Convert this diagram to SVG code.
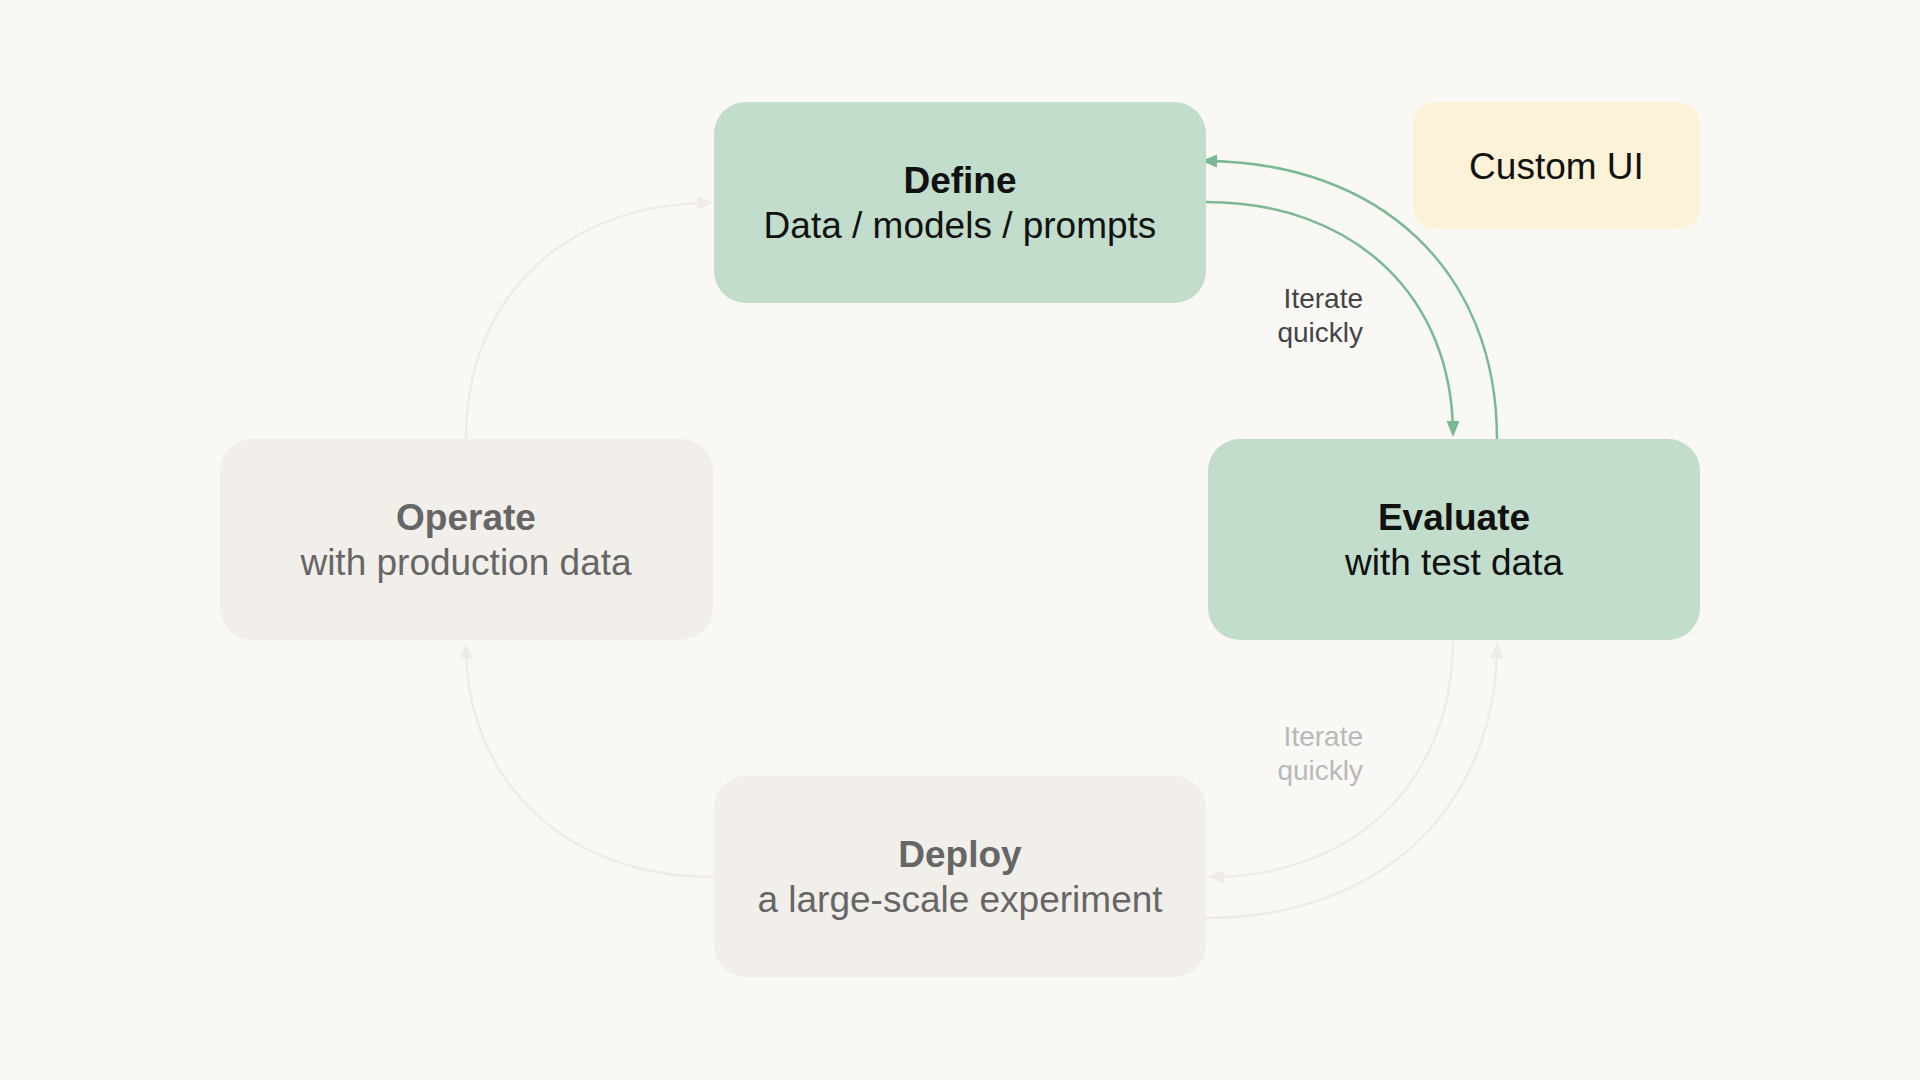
<svg xmlns="http://www.w3.org/2000/svg" width="1920" height="1080" viewBox="0 0 1920 1080">
  <style>
    .box-active { fill: #c2ddcb; }
    .box-idle { fill: #f2efeb; }
    .box-ui { fill: #fcf2d8; }
    .t { font-family: "Liberation Sans", Arial, sans-serif; font-size: 37px; text-anchor: middle; }
    .b { font-weight: bold; }
    .dark { fill: #111111; }
    .grey { fill: #666666; }
    .lbl { font-family: "Liberation Sans", Arial, sans-serif; font-size: 28px; text-anchor: end; }
    .c-on { fill: none; stroke: #7ab994; stroke-width: 2.5; }
    .c-off { fill: none; stroke: #efebe6; stroke-width: 2.5; }
  </style>
  <defs>
    <marker id="ah-on" markerUnits="userSpaceOnUse" markerWidth="18" markerHeight="14" refX="14" refY="6.5" orient="auto">
      <path d="M0,0 L16,6.5 L0,13 z" fill="#7ab994"/>
    </marker>
    <marker id="ah-off" markerUnits="userSpaceOnUse" markerWidth="18" markerHeight="14" refX="14" refY="6.5" orient="auto">
      <path d="M0,0 L16,6.5 L0,13 z" fill="#efebe6"/>
    </marker>
  </defs>
  <rect width="1920" height="1080" fill="#f9f8f5"/>

  <g id="connectors">
    <path class="c-on" d="M1206,202 C1354,202 1453,296 1453,435" marker-end="url(#ah-on)"/>
    <path class="c-on" d="M1497,439 C1497,272 1381,161 1203,161" marker-end="url(#ah-on)"/>
    <path class="c-off" d="M1453,640 C1453,782 1354,877 1210,877" marker-end="url(#ah-off)"/>
    <path class="c-off" d="M1206,918 C1381,918 1497,807 1497,644" marker-end="url(#ah-off)"/>
    <path class="c-off" d="M466,439 C466,297 565,203 711,203" marker-end="url(#ah-off)"/>
    <path class="c-off" d="M714,877 C565,877 466,782 466,645" marker-end="url(#ah-off)"/>
    <g id="label-top">
      <text class="lbl" x="1363" y="308" fill="#444444">Iterate</text>
      <text class="lbl" x="1363" y="342" fill="#444444">quickly</text>
    </g>
    <g id="label-bottom">
      <text class="lbl" x="1363" y="746" fill="#b9b9b9">Iterate</text>
      <text class="lbl" x="1363" y="780" fill="#b9b9b9">quickly</text>
    </g>
  </g>

  <g id="define">
    <rect class="box-active" x="714" y="102" width="492" height="201" rx="32"/>
    <text class="t b dark" x="960" y="193">Define</text>
    <text class="t dark" x="960" y="238">Data / models / prompts</text>
  </g>
  <g id="evaluate">
    <rect class="box-active" x="1208" y="439" width="492" height="201" rx="32"/>
    <text class="t b dark" x="1454" y="530">Evaluate</text>
    <text class="t dark" x="1454" y="575">with test data</text>
  </g>
  <g id="operate">
    <rect class="box-idle" x="220" y="439" width="493" height="201" rx="32"/>
    <text class="t b grey" x="466" y="530">Operate</text>
    <text class="t grey" x="466" y="575">with production data</text>
  </g>
  <g id="deploy">
    <rect class="box-idle" x="714" y="776" width="492" height="201" rx="32"/>
    <text class="t b grey" x="960" y="867">Deploy</text>
    <text class="t grey" x="960" y="912">a large-scale experiment</text>
  </g>
  <g id="custom-ui">
    <rect class="box-ui" x="1413" y="102" width="287" height="127" rx="22"/>
    <text class="t dark" x="1556.5" y="179">Custom UI</text>
  </g>
</svg>
